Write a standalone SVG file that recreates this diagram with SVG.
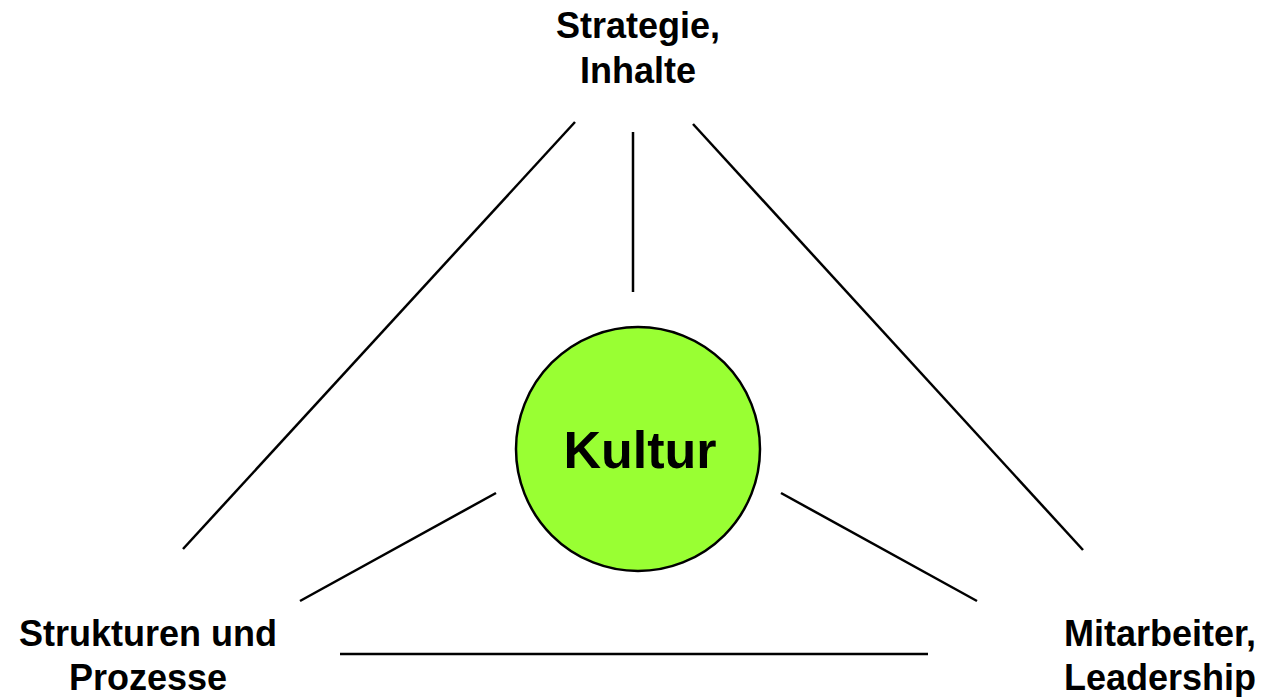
<svg xmlns="http://www.w3.org/2000/svg" width="1265" height="697" viewBox="0 0 1265 697">
<style>
.lbl{font-family:"Liberation Sans",Arial,sans-serif;font-weight:bold;font-size:36px;fill:#000;text-anchor:middle}
.ln{stroke:#000;stroke-width:2.5;fill:none}
</style>
<rect width="1265" height="697" fill="#fff"/>
<g id="connectors">
<line class="ln" x1="575" y1="122" x2="183" y2="549"/>
<line class="ln" x1="633" y1="132" x2="633" y2="292"/>
<line class="ln" x1="693" y1="124" x2="1083" y2="550"/>
<line class="ln" x1="496" y1="493" x2="300" y2="601"/>
<line class="ln" x1="781" y1="493" x2="977" y2="601"/>
<line class="ln" x1="340" y1="654" x2="928" y2="654"/>
</g>
<g id="kultur">
<circle cx="638" cy="449" r="122" fill="#99ff33" stroke="#000" stroke-width="2.5"/>
<text class="lbl" x="640" y="468" style="font-size:52px">Kultur</text>
</g>
<g id="strategie">
<text class="lbl" x="638" y="38">Strategie,</text>
<text class="lbl" x="638" y="83">Inhalte</text>
</g>
<g id="strukturen">
<text class="lbl" x="148" y="646">Strukturen und</text>
<text class="lbl" x="148" y="690">Prozesse</text>
</g>
<g id="mitarbeiter">
<text class="lbl" x="1160" y="646">Mitarbeiter,</text>
<text class="lbl" x="1160" y="690">Leadership</text>
</g>
</svg>
